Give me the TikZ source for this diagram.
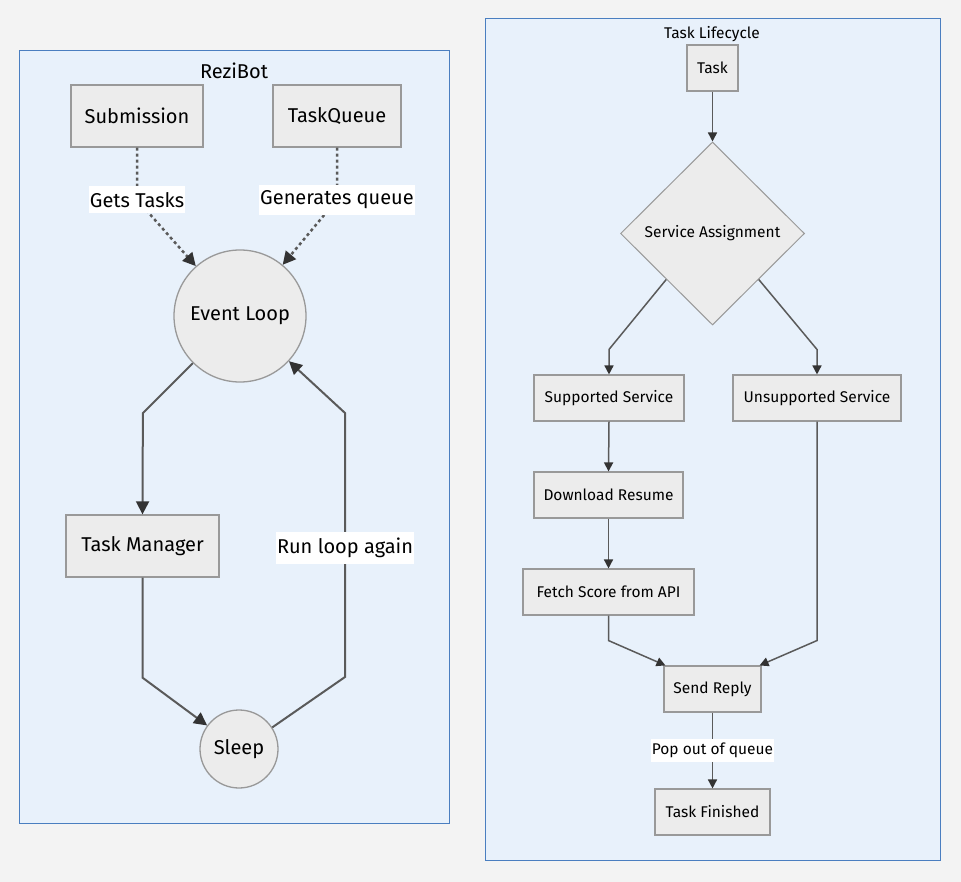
\documentclass[tikz,border=0pt]{standalone}
\usepackage{fontspec}
\setmainfont{Fira Sans}
\usetikzlibrary{shapes.geometric,arrows.meta}
\definecolor{bgc}{RGB}{243,243,243}
\definecolor{clfill}{RGB}{232,241,251}
\definecolor{clline}{RGB}{74,126,192}
\definecolor{nfill}{RGB}{236,236,236}
\definecolor{nline}{RGB}{153,153,153}
\definecolor{eline}{RGB}{90,90,90}
\definecolor{tipc}{RGB}{51,51,51}
\begin{document}
\begin{tikzpicture}[x=1pt,y=-1pt,
  bigfont/.style={font=\fontsize{20}{23}\selectfont},
  smallfont/.style={font=\fontsize{15.5}{18}\selectfont},
  cluster/.style={draw=clline,fill=clfill,line width=1pt},
  boxL/.style={draw=nline,fill=nfill,line width=1.3pt,inner sep=0pt,bigfont,text=black,minimum height=62pt},
  circL/.style={circle,draw=nline,fill=nfill,line width=1.3pt,inner sep=0pt,bigfont,text=black},
  boxR/.style={draw=nline,fill=nfill,line width=1.1pt,inner sep=0pt,smallfont,text=black,minimum height=46pt},
  edgeL/.style={draw=eline,line width=2pt,-{Triangle[length=13pt,width=13pt,color=tipc]}},
  dotL/.style={edgeL,line width=2.5pt,dash pattern=on 3pt off 3pt},
  edgeR/.style={draw=eline,line width=1.5pt,-{Triangle[length=9pt,width=9pt,color=tipc]}},
  lblL/.style={fill=white,inner xsep=1pt,inner ysep=6pt,bigfont,text=black},
  lblR/.style={fill=white,inner xsep=1pt,inner ysep=4pt,smallfont,text=black}
]
\fill[bgc] (0,0) rectangle (961,882);
\useasboundingbox (0,0) rectangle (961,882);

% clusters
\draw[cluster] (19,51) rectangle (449,823);
\node[bigfont] (t1) at (234,71) {ReziBot};
\draw[cluster] (485,19) rectangle (940,860);
\node[smallfont] (t2) at (712,34) {Task Lifecycle};

% left nodes
\node[boxL,minimum width=132pt] (sub) at (137,116) {Submission};
\node[boxL,minimum width=128pt] (tq) at (337,116) {TaskQueue};
\node[circL,minimum size=132pt] (ev) at (240,316) {Event Loop};
\node[boxL,minimum width=153pt] (tm) at (142.5,546) {Task Manager};
\node[circL,minimum size=78pt] (sl) at (239,749) {Sleep};

% left edges
\draw[dotL] (sub.south) -- ++(0,52) node[lblL] (l1) {Gets Tasks} -- (ev);
\draw[dotL] (tq.south) -- ++(0,52) node[lblL] (l2) {Generates queue} -- (ev);
\draw[edgeL] (ev.225) -- ++(-50,50) -- (tm.north);
\draw[edgeL] (tm.south) -- ++(0,100) -- (sl);
\draw[edgeL] (sl.33) -- (345,677) -- node[lblL,pos=0.49] (l3) {Run loop again} (345,413) -- (ev);

% right nodes
\node[boxR,minimum width=51pt] (task) at (712.5,68) {Task};
\node[diamond,aspect=1,draw=nline,fill=nfill,line width=1pt,inner sep=0pt,smallfont,
      minimum width=184pt,minimum height=183pt] (dia) at (712.5,233.5) {Service Assignment};
\node[boxR,minimum width=150pt] (sup) at (609,398) {Supported Service};
\node[boxR,minimum width=168pt] (uns) at (817,398) {Unsupported Service};
\node[boxR,minimum width=149pt] (dl) at (608.5,495) {Download Resume};
\node[boxR,minimum width=171pt] (fs) at (608.5,592) {Fetch Score from API};
\node[boxR,minimum width=97pt] (sr) at (712.5,689) {Send Reply};
\node[boxR,minimum width=115pt] (tf) at (712.5,812) {Task Finished};

% right edges
\draw[edgeR] (task.south) -- (dia.north);
\draw[edgeR] (dia.south west) -- ([yshift=25pt]sup.north) -- (sup.north);
\draw[edgeR] (dia.south east) -- ([yshift=25pt]uns.north) -- (uns.north);
\draw[edgeR] (sup.south) -- (dl.north);
\draw[edgeR] (dl.south) -- (fs.north);
\draw[edgeR] (fs.south) -- ++(0,25) -- ([xshift=2pt]sr.north west);
\draw[edgeR] (uns.south) -- ++(0,219) -- ([xshift=-2pt]sr.north east);
\draw[edgeR] (sr.south) -- node[lblR] (l4) {Pop out of queue} (tf.north);
\end{tikzpicture}
\end{document}
